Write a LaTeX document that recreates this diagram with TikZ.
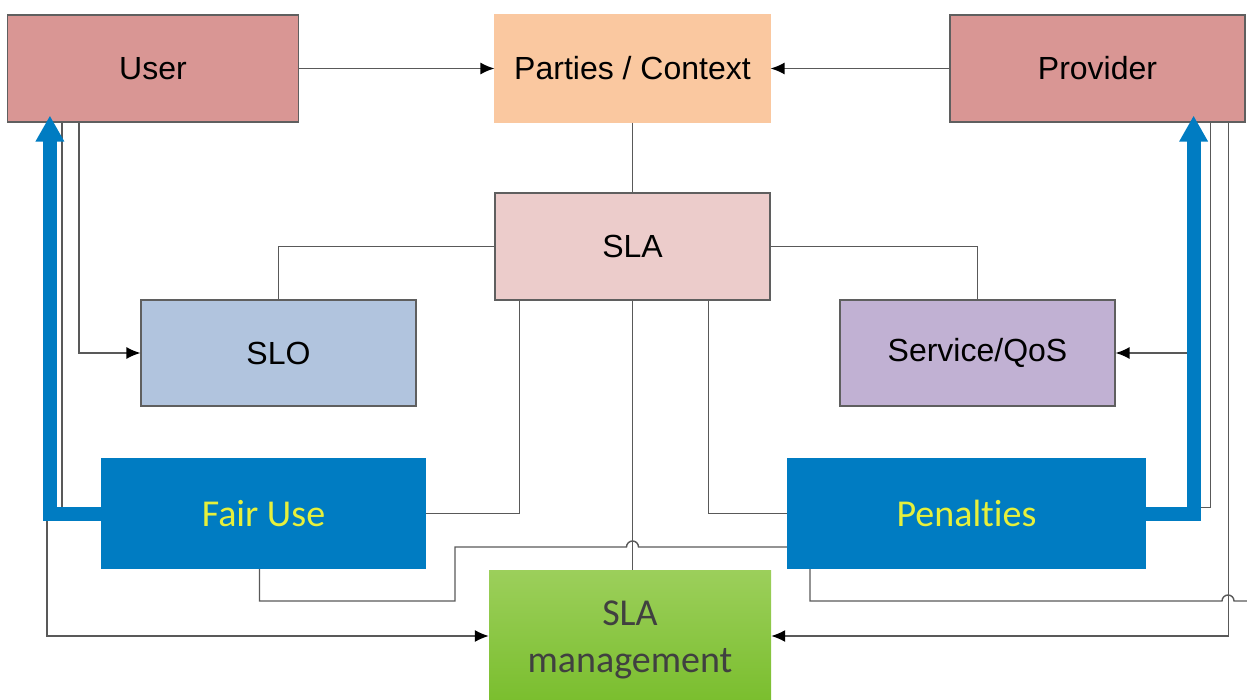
\documentclass[tikz,border=0pt]{standalone}
\usepackage{fontspec}
\setmainfont{Liberation Sans}
\newfontfamily\calibri[Ligatures=NoCommon]{Carlito}
\usetikzlibrary{arrows.meta}
\definecolor{userred}{HTML}{D99694}
\definecolor{peach}{HTML}{FAC8A0}
\definecolor{slapink}{HTML}{ECCCCB}
\definecolor{slobl}{HTML}{B1C4DE}
\definecolor{qospur}{HTML}{C1B1D3}
\definecolor{ablue}{HTML}{007CC2}
\definecolor{ayellow}{RGB}{230,240,60}
\definecolor{boxline}{HTML}{5F5F5F}
\definecolor{wiregray}{HTML}{595959}
\definecolor{gtop}{HTML}{9CCF5B}
\definecolor{gbot}{HTML}{78BD2B}

\begin{document}
\begin{tikzpicture}[x=1pt,y=-1pt,
   box/.style={draw=boxline,line width=1.2pt,minimum width=275pt,minimum height=107pt,inner sep=0pt,font=\fontsize{32}{38}\selectfont},
   bluebox/.style={fill=ablue,minimum width=325pt,minimum height=111pt,inner sep=0pt,text=ayellow,font=\calibri\fontsize{38}{46}\selectfont},
   wire/.style={draw=wiregray,line width=1.4pt},
   tip/.style={-{Latex[length=14pt,width=12pt,color=black]}},
   bluearrow/.style={draw=ablue,line width=14pt,-{Triangle[length=26pt,width=27pt]}}]
   \useasboundingbox (0,0) rectangle (1247,700);

   % boxes
   \node[box,fill=userred,minimum width=291pt] (user) at (153,68.5) {User};
   \node[box,fill=peach,draw=peach] (parties) at (632.5,68.5) {Parties / Context};
   \node[box,fill=userred,minimum width=295pt] (provider) at (1097.5,68.5) {Provider};
   \node[box,fill=slapink] (sla) at (632.5,246.5) {SLA};
   \node[box,fill=slobl,minimum height=106pt] (slo) at (278.5,353) {SLO};
   \node[box,fill=qospur,minimum height=106pt] (qos) at (977.5,353) {Service/QoS};
   \node[bluebox] (fair) at (263.5,513.5) {Fair Use};
   \node[bluebox,minimum width=359pt] (pen) at (966.5,513.5) {Penalties};
   \node[top color=gtop,bottom color=gbot,minimum width=282pt,minimum height=140pt,inner sep=0pt,
      align=center,text=black!75,font=\calibri\fontsize{38}{47}\selectfont] (mgmt) at (630,640) {SLA\\management};
   \coordinate (edge) at (1250,601);

   % connectors
   \draw[wire,tip] (user) -- (parties);
   \draw[wire,tip] (provider) -- (parties);
   \draw[wire] (parties) -- (sla);
   \draw[wire] (sla.west) -| (slo.north);
   \draw[wire] (sla.east) -| (qos.north);
   \draw[wire,tip] ([xshift=72pt]user.south west) |- (slo);
   \draw[wire,tip] ([xshift=40pt]user.south west) |- ([yshift=4pt]mgmt.west);
   \draw[wire] ([xshift=55pt]user.south west) |- ([yshift=6pt]fair.west);
   \draw[wire] ([xshift=25pt]sla.south west) |- (fair.east);
   \draw[wire] ([xshift=-62pt]sla.south east) |- (pen.west);
   \draw[wire] (sla.south) -- (sla.south |- mgmt.north);
   \draw[wire] ([xshift=-4pt]fair.south) |- (455,601) |- (626.5,547)
      arc[start angle=180,end angle=0,radius=6pt] -- ([yshift=-33.5pt]pen.west);
   \draw[wire] ([xshift=-156.5pt]pen.south) |- (1222,601)
      arc[start angle=180,end angle=0,radius=6pt] -- (edge);
   \draw[wire,tip] ([xshift=-17pt]provider.south east) |- ([yshift=4pt]mgmt.east);
   \draw[wire] ([xshift=-35pt]provider.south east) |- ([yshift=6pt]pen.east);
   \draw[wire,tip] (1193,353) -- (qos);

   % thick arrows
   \draw[bluearrow] (fair.west) -| ([xshift=43pt,yshift=7pt]user.south west);
   \draw[bluearrow] (pen.east) -| ([xshift=-52pt,yshift=7pt]provider.south east);
\end{tikzpicture}
\end{document}
